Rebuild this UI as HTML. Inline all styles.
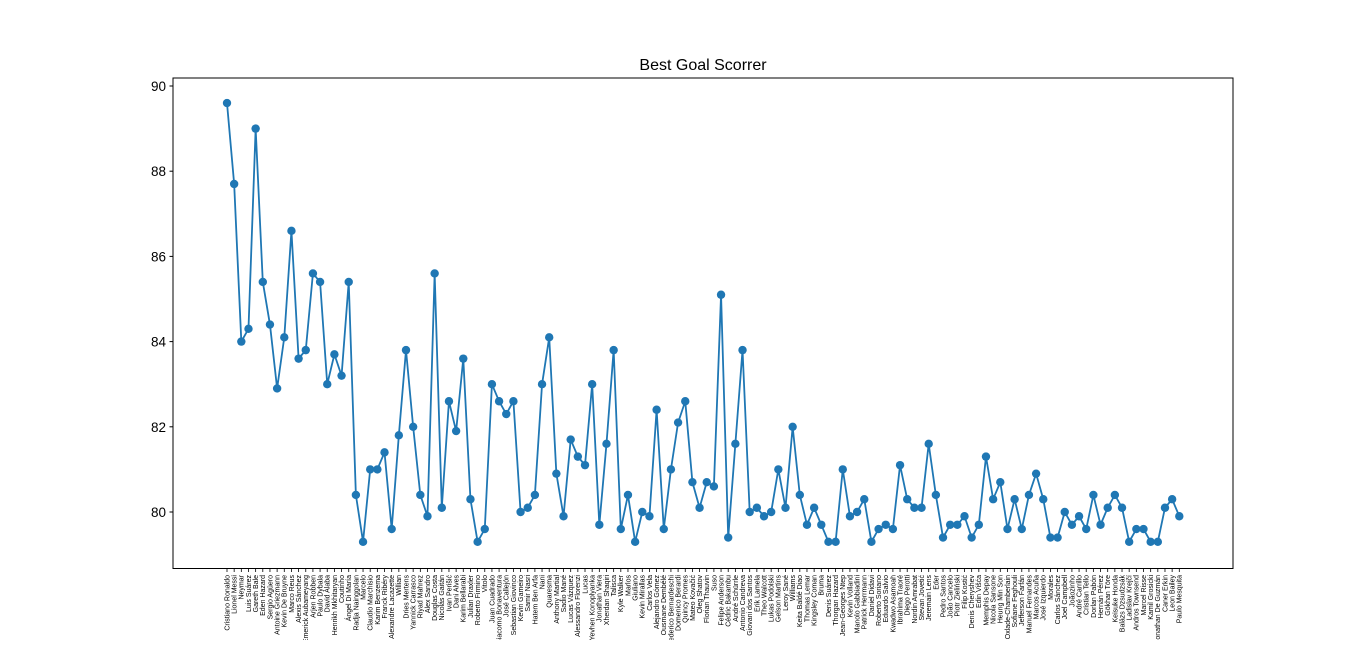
<!DOCTYPE html>
<html><head><meta charset="utf-8"><style>
body{margin:0;background:#fff;width:1372px;height:640px;overflow:hidden}
svg{font-family:"Liberation Sans","DejaVu Sans",sans-serif}
</style></head><body>
<svg id="chart" width="1372" height="640" xmlns="http://www.w3.org/2000/svg">
<rect width="1372" height="640" fill="#fff"/>
<text x="703" y="70" text-anchor="middle" font-size="16" fill="#000">Best Goal Scorrer</text>
<g id="yaxis"></g><g id="xaxis"></g><g id="series"></g>
<rect x="173" y="78" width="1060" height="490.5" fill="none" stroke="#000" stroke-width="1"/>
</svg>
<script>
const players = ["Cristiano Ronaldo","Lionel Messi","Neymar","Luis Suárez","Gareth Bale","Eden Hazard","Sergio Agüero","Antoine Griezmann","Kevin De Bruyne","Marco Reus","Alexis Sánchez","Pierre-Emerick Aubameyang","Arjen Robben","Paulo Dybala","David Alaba","Henrikh Mkhitaryan","Coutinho","Ángel Di María","Radja Nainggolan","Marcelo","Claudio Marchisio","Karim Benzema","Franck Ribéry","Alexandre Lacazette","Willian","Dries Mertens","Yannick Carrasco","Riyad Mahrez","Alex Sandro","Douglas Costa","Nicolás Gaitán","Ivan Perišić","Dani Alves","Karim Bellarabi","Julian Draxler","Roberto Firmino","Vitolo","Juan Cuadrado","Giacomo Bonaventura","José Callejón","Sebastian Giovinco","Kevin Gameiro","Samir Nasri","Hatem Ben Arfa","Nani","Quaresma","Anthony Martial","Sadio Mané","Lucas Vázquez","Alessandro Florenzi","Lucas","Yevhen Konoplyanka","Jonathan Viera","Xherdan Shaqiri","Talisca","Kyle Walker","Marlos","Giuliano","Kevin Mirallas","Carlos Vela","Alejandro Gómez","Ousmane Dembélé","Federico Bernardeschi","Domenico Berardi","Quincy Promes","Mateo Kovačić","Oleg Shatov","Florian Thauvin","Suso","Felipe Anderson","Cédric Bakambu","André Schürrle","Antonio Candreva","Giovani dos Santos","Erik Lamela","Theo Walcott","Lukas Podolski","Gelson Martins","Leroy Sané","Williams","Keita Baldé Diao","Thomas Lemar","Kingsley Coman","Bruma","Denis Suárez","Thorgan Hazard","Jean-Georges Ntep","Kevin Volland","Manolo Gabbiadini","Patrick Herrmann","Daniel Didavi","Roberto Soriano","Eduardo Salvio","Kwadwo Asamoah","Ibrahima Traoré","Diego Perotti","Nordin Amrabat","Stevan Jovetić","Jeremain Lens","Eder","Pedro Santos","João Cancelo","Piotr Zieliński","Filip Kostić","Denis Cheryshev","Edin Višća","Memphis Depay","Nicola Sansone","Heung Min Son","Alex Oxlade-Chamberlain","Sofiane Feghouli","Jefferson Farfán","Manuel Fernandes","Marcos Acuña","José Izquierdo","Morales","Carlos Sánchez","Joel Campbell","Joãozinho","André Carrillo","Cristian Tello","Dorlan Pabón","Hernán Pérez","Gökhan Töre","Keisuke Honda","Balázs Dzsudzsák","Ladislav Krejčí","Andros Townsend","Marcel Risse","Kamil Grosicki","Jonathan De Guzmán","Caner Erkin","Leon Bailey","Paulo Mesquita"];
const scores = [89.6,87.7,84.0,84.3,89.0,85.4,84.4,82.9,84.1,86.6,83.6,83.8,85.6,85.4,83.0,83.7,83.2,85.4,80.4,79.3,81.0,81.0,81.4,79.6,81.8,83.8,82.0,80.4,79.9,85.6,80.1,82.6,81.9,83.6,80.3,79.3,79.6,83.0,82.6,82.3,82.6,80.0,80.1,80.4,83.0,84.1,80.9,79.9,81.7,81.3,81.1,83.0,79.7,81.6,83.8,79.6,80.4,79.3,80.0,79.9,82.4,79.6,81.0,82.1,82.6,80.7,80.1,80.7,80.6,85.1,79.4,81.6,83.8,80.0,80.1,79.9,80.0,81.0,80.1,82.0,80.4,79.7,80.1,79.7,79.3,79.3,81.0,79.9,80.0,80.3,79.3,79.6,79.7,79.6,81.1,80.3,80.1,80.1,81.6,80.4,79.4,79.7,79.7,79.9,79.4,79.7,81.3,80.3,80.7,79.6,80.3,79.6,80.4,80.9,80.3,79.4,79.4,80.0,79.7,79.9,79.6,80.4,79.7,80.1,80.4,80.1,79.3,79.6,79.6,79.3,79.3,80.1,80.3,79.9];
const yTicks = [80,82,84,86,88,90];

const NS="http://www.w3.org/2000/svg";
const n = players.length;
function xs(i){return 227 + i*(1179.3-227)/(n-1);}
function ys(v){return 512 - (v-80)*42.6;}
function mk(tag,attrs,parent){const e=document.createElementNS(NS,tag);for(const k in attrs)e.setAttribute(k,attrs[k]);parent.appendChild(e);return e;}
const yg=document.getElementById('yaxis'), xg=document.getElementById('xaxis'), sg=document.getElementById('series');
yTicks.forEach(t=>{
  const l=mk('line',{x1:169.5,x2:173,y1:ys(t),y2:ys(t),stroke:'#000'},yg);
  
  
  const tx=mk('text',{x:166,y:ys(t)+5,'text-anchor':'end','font-size':13.5,fill:'#000'},yg);
  tx.textContent=t;
  
  
});
players.forEach((p,i)=>{
  const x=xs(i);
  const l=mk('line',{x1:x,x2:x,y1:568.5,y2:572,stroke:'#000','stroke-width':0.8},xg);
  
  
  const tx=mk('text',{transform:`translate(${x+2.4},575) rotate(-90)`,'text-anchor':'end','font-size':7,fill:'#000'},xg);
  tx.textContent=p;
  
  
});
const pts=scores.map((v,i)=>xs(i).toFixed(2)+','+ys(v).toFixed(2)).join(' ');
const pl=mk('polyline',{points:pts,fill:'none',stroke:'#1f77b4','stroke-width':1.8},sg);


scores.forEach((v,i)=>{
  const c=mk('circle',{cx:xs(i),cy:ys(v),r:4.2,fill:'#1f77b4'},sg);
  
  
});
</script>
</body></html>
